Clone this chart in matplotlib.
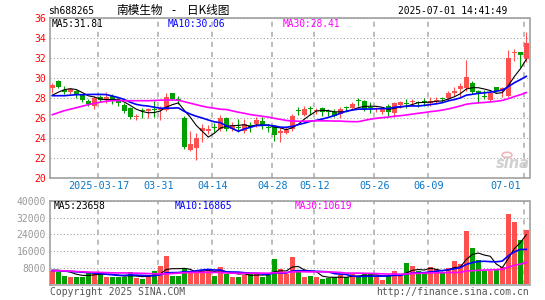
import numpy as np
import pandas as pd
import matplotlib
matplotlib.use("Agg")
import matplotlib.pyplot as plt

# daily bars 2025-03-05 .. 2025-07-01, 80 trading days
opens = [28.97, 29.7, 28.8, 28.55, 28.65, 28.3, 27.7, 27.2, 28.1, 27.9,
         28.2, 27.8, 27.3, 27.0, 26.05, 26.75, 26.65, 26.85, 26.75, 26.8,
         28.45, 27.9, 26.0, 22.8, 23.0, 24.7, 24.7, 25.05, 24.85, 25.95,
         24.9, 25.05, 24.7, 25.25, 25.35, 25.7, 25.05, 25.1, 24.45, 24.45,
         24.85, 26.75, 26.3, 26.9, 26.65, 26.95, 26.65, 26.55, 26.4, 27.0,
         26.95, 27.7, 27.65, 27.0, 26.85, 26.55, 27.2, 26.45, 27.3, 27.4,
         27.55, 27.55, 27.7, 27.45, 27.68, 27.95, 27.95, 28.45, 28.85, 29.0,
         29.45, 28.65, 28.2, 27.8, 29.05, 28.7, 28.2, 32.45, 32.55, 31.85]
closes = [29.3, 29.03, 28.6, 28.85, 28.3, 27.8, 27.4, 28.0, 27.8, 28.05,
          27.85, 27.5, 26.65, 26.1, 26.15, 26.7, 26.85, 26.8, 26.85, 28.1,
          27.9, 27.75, 23.1, 23.4, 24.0, 24.95, 24.85, 25.0, 26.0, 24.9,
          25.25, 25.0, 25.35, 25.05, 25.75, 25.2, 25.0, 24.3, 24.7, 24.8,
          26.2, 26.7, 26.85, 26.85, 26.72, 26.55, 26.6, 26.2, 26.85, 26.95,
          27.35, 27.65, 26.85, 26.95, 26.9, 26.85, 26.55, 27.45, 27.55, 27.35,
          27.7, 27.5, 27.55, 27.7, 27.72, 27.9, 28.45, 28.7, 29.2, 30.1,
          28.55, 28.45, 28.05, 28.45, 28.65, 28.95, 31.95, 32.55, 32.3, 33.45]
highs = [29.5, 29.8, 29.2, 29.0, 28.75, 28.4, 27.85, 28.2, 28.3, 28.6,
         28.35, 28.0, 27.45, 27.1, 26.4, 27.0, 27.0, 27.7, 27.2, 28.5,
         28.5, 28.2, 26.2, 24.7, 24.5, 25.4, 25.3, 25.45, 26.3, 26.05,
         25.55, 25.85, 25.85, 25.55, 26.05, 26.05, 25.35, 25.2, 25.05, 25.05,
         26.35, 27.1, 27.2, 27.2, 26.95, 27.1, 26.85, 26.85, 27.05, 27.2,
         27.55, 28.0, 27.8, 27.55, 27.1, 27.1, 27.35, 27.55, 27.7, 27.85,
         27.85, 27.7, 27.95, 28.1, 28.1, 28.05, 28.7, 29.05, 29.45, 31.8,
         29.7, 28.8, 28.8, 28.55, 29.05, 29.05, 32.75, 32.85, 32.55, 34.55]
lows = [28.5, 28.95, 28.4, 28.4, 28.0, 27.6, 27.15, 26.9, 27.55, 27.5,
        27.4, 27.2, 26.5, 25.85, 25.8, 26.0, 25.95, 26.05, 25.8, 26.65,
        27.8, 27.4, 22.85, 22.7, 21.8, 23.55, 24.4, 24.55, 24.7, 24.7,
        24.7, 24.55, 24.45, 24.55, 25.05, 24.85, 24.55, 23.7, 23.55, 24.4,
        24.7, 26.3, 26.2, 26.3, 26.35, 26.2, 26.2, 26.05, 25.95, 26.55,
        26.75, 27.2, 26.7, 26.45, 26.55, 26.4, 26.15, 26.05, 26.95, 26.95,
        27.2, 27.1, 27.2, 27.2, 27.35, 27.55, 27.75, 28.2, 28.05, 28.65,
        28.4, 27.45, 27.9, 27.7, 28.55, 28.05, 28.1, 31.7, 31.1, 31.55]
volumes = [6545, 6060, 4120, 3640, 3640, 3640, 5720, 5900, 4940, 3640,
           3640, 3640, 3640, 5720, 2830, 2330, 4120, 6545, 8970, 13480,
           4120, 4120, 7350, 6545, 6545, 6545, 6545, 4120, 8480, 4700,
           3500, 3640, 4500, 4900, 5300, 3500, 4300, 11880, 7100, 4950,
           13000, 5720, 3640, 4120, 3640, 2300, 3100, 3300, 4500, 3300,
           4950, 3640, 4950, 4700, 4120, 2180, 4120, 6200, 4120, 10100,
           8630, 6200, 4940, 8480, 7350, 5240, 8000, 11060, 9500, 25600,
           17200, 11540, 6200, 6545, 6870, 8480, 33700, 29660, 21100, 25940]

# MA values visible at the left edge (window reaches before the shown period)
ma5_head = [28.25, 28.55, 28.8, 28.9]
ma10_head = [28.2, 28.2, 28.2, 28.25, 28.3, 28.3, 28.32, 28.33, 28.33]
ma30_head = [26.3, 26.5, 26.7, 26.85, 27.0, 27.15, 27.3, 27.45, 27.55, 27.65,
             27.7, 27.72, 27.7, 27.7, 27.7, 27.7, 27.7, 27.72, 27.75, 27.77,
             27.77, 27.75, 27.6, 27.45, 27.3, 27.15, 27.03, 26.95, 26.85]
vma5_head = [6700, 6700, 6300, 5800]
vma10_head = [6545, 6450, 6300, 6150, 5950, 5750, 5550, 5350, 5150]
vma30_head = [6545, 6500, 6400, 6250, 6100, 5950, 5800, 5740, 5650, 5550,
              5450, 5420, 5400, 5350, 5300, 5200, 5100, 5000, 4950, 4950,
              5100, 5300, 5500, 5600, 5650, 5700, 5700, 5650, 5600]

tick_idx = [8, 18, 27, 37, 44, 54, 63, 79]
tick_labels = ["2025-03-17", "03-31", "04-14", "04-28", "05-12", "05-26", "06-09", "07-01"]

UP = "#ff5050"
DOWN = "#00a000"
GRID = "#999999"
MONO = "DejaVu Sans Mono"
CJK = ["Noto Sans CJK SC", "DejaVu Sans"]


def moving_avg(values, n, head):
    ma = pd.Series(values, dtype=float).rolling(n).mean().to_numpy()
    ma[:len(head)] = head
    return ma


W, H = 545, 300
fig = plt.figure(figsize=(W / 100, H / 100), dpi=100)
fig.patch.set_facecolor("white")


def fx(px):
    return px / W


def fy(py):
    return 1 - py / H


ax = fig.add_axes([fx(50), fy(177.7), fx(479.5), fy(17.7) - fy(177.7)])
axv = fig.add_axes([fx(50), fy(285), fx(479.5), fy(201) - fy(285)])

x = np.arange(len(closes))
o = np.array(opens)
c = np.array(closes)
up = c >= o
colors = np.where(up, UP, DOWN)

# candles
ax.vlines(x, lows, highs, colors=colors, lw=0.8, zorder=3)
body_low = np.minimum(o, c)
body_h = np.maximum(np.abs(c - o), 0.09)
ax.bar(x, body_h, bottom=body_low, width=0.8, color=colors, lw=0, zorder=3)

ax.plot(x, moving_avg(closes, 5, ma5_head), color="black", lw=0.8, zorder=4)
ax.plot(x, moving_avg(closes, 10, ma10_head), color="#0000ff", lw=1.2, zorder=4)
ax.plot(x, moving_avg(closes, 30, ma30_head), color="#ff00ff", lw=1.2, zorder=4)

# volume
axv.bar(x, volumes, width=0.85, color=colors, lw=0, zorder=3)
axv.plot(x, moving_avg(volumes, 5, vma5_head), color="black", lw=0.8, zorder=4)
axv.plot(x, moving_avg(volumes, 10, vma10_head), color="#0000ff", lw=1.2, zorder=4)
axv.plot(x, moving_avg(volumes, 30, vma30_head), color="#ff00ff", lw=1.2, zorder=4)

xlim = (-2.3 / 6, -2.3 / 6 + 479.5 / 6)
for a in (ax, axv):
    a.set_xlim(*xlim)
    a.set_xticks([i - 0.33 for i in tick_idx])
    a.set_xticklabels([])
    a.xaxis.grid(True, color="#aaaaaa", lw=1.1, linestyle=(0, (3.3, 3.3)))
    a.yaxis.grid(True, color=GRID, lw=0.75, linestyle=(0, (1, 2.2)))
    a.set_axisbelow(True)
    for s in a.spines.values():
        s.set_color(GRID)
        s.set_linewidth(1.1)
    a.tick_params(length=0)

ax.set_ylim(20, 36)
ax.set_yticks(np.arange(20, 37, 2))
ax.set_yticklabels([str(v) for v in range(20, 37, 2)], color="red",
                   fontsize=7, fontfamily=MONO)
ax.tick_params(axis="y", pad=3)

# date labels between the panels; the last one is kept inside the frame
for i, lab in zip(tick_idx, tick_labels):
    xpx = 50 + (i - 0.33 - xlim[0]) * 6
    xpx = min(xpx, 506)
    fig.text(fx(xpx), fy(186), lab, color="#0a78c8", fontsize=7.3, fontfamily=MONO,
             ha="center", va="center")

axv.set_ylim(-400, 40000)
axv.set_yticks([8000, 16000, 24000, 32000, 40000])
axv.set_yticklabels(["8000", "16000", "24000", "32000", "40000"], color="#999999",
                    fontsize=7, fontfamily=MONO)
axv.tick_params(axis="y", pad=3)

# header
fig.text(fx(48), fy(10.5), "sh688265", fontsize=6.9, fontfamily=MONO, va="center")
fig.text(fx(116), fy(10.5), "南模生物", fontsize=8.4, family=CJK, va="center")
fig.text(fx(173), fy(10.5), "-", fontsize=8.4, family=CJK, va="center", ha="center")
fig.text(fx(187), fy(10.5), "日K线图", fontsize=8.4, family=CJK, va="center")
fig.text(fx(507), fy(10.5), "2025-07-01 14:41:49", fontsize=6.9, fontfamily=MONO,
         va="center", ha="right")

fig.text(fx(52), fy(24), "MA5:31.81", fontsize=6.9, fontfamily=MONO, va="center", color="black")
fig.text(fx(168), fy(24), "MA10:30.06", fontsize=6.9, fontfamily=MONO, va="center", color="#0000ff")
fig.text(fx(283), fy(24), "MA30:28.41", fontsize=6.9, fontfamily=MONO, va="center", color="#ff00ff")

fig.text(fx(54), fy(206), "MA5:23658", fontsize=6.9, fontfamily=MONO, va="center", color="black")
fig.text(fx(175), fy(206), "MA10:16865", fontsize=6.9, fontfamily=MONO, va="center", color="#0000ff")
fig.text(fx(295), fy(206), "MA30:10619", fontsize=6.9, fontfamily=MONO, va="center", color="#ff00ff")

# watermark
fig.text(fx(513), fy(164), "sina", fontsize=10.5, fontweight="bold", style="italic",
         color="#d0d0d0", ha="center", va="center")
fig.patches.append(plt.Circle((fx(507), fy(155)), 0.009, transform=fig.transFigure,
                              facecolor="none", edgecolor="#f0b8b8", lw=1.2))

fig.text(fx(50), fy(292), "Copyright 2025 SINA.COM", fontsize=7, fontfamily=MONO,
         va="center", color="#555555")
fig.text(fx(529), fy(292), "http://finance.sina.com.cn", fontsize=7, fontfamily=MONO,
         va="center", ha="right", color="#555555")

fig.savefig("out.png", dpi=100)
